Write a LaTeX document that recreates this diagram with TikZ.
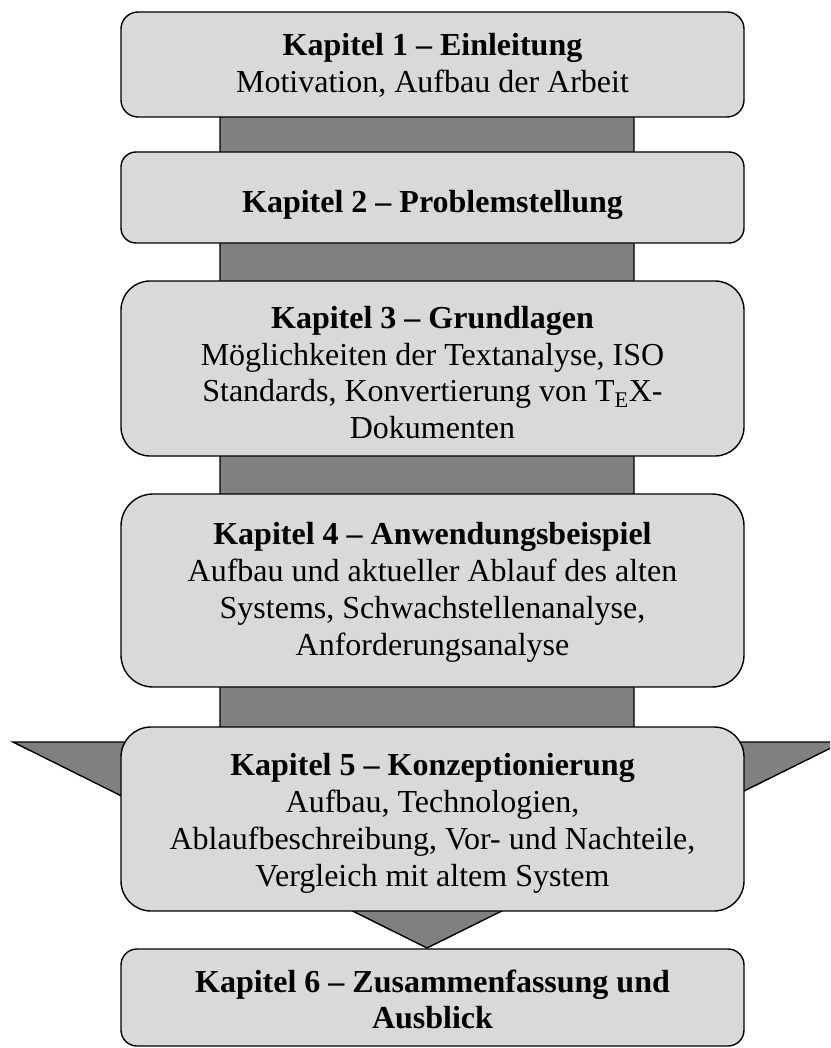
\documentclass[tikz,border=0pt]{standalone}
\usepackage{fontspec}
\setmainfont{Liberation Serif}
\usetikzlibrary{backgrounds}
\definecolor{boxfill}{HTML}{D9D9D9}
\definecolor{arrowfill}{HTML}{808080}
\begin{document}
\begin{tikzpicture}[x=1pt,y=-1pt,
  chapter/.style={draw=black, line width=1.4pt, fill=boxfill, rectangle,
    inner sep=0pt, minimum width=623pt},
  chaptext/.style={align=center, inner sep=0pt, font=\fontsize{32}{36.8}\selectfont},
  flow/.style={draw=black, line width=1.4pt, fill=arrowfill, line join=miter}
]
\useasboundingbox (0,0) rectangle (830,1048);

% chapter boxes, top to bottom
\node[chapter, minimum height=105pt, rounded corners=17pt] (k1) at (432.5,64.5) {};
\node[chapter, minimum height=91pt,  rounded corners=15pt] (k2) at (432.5,197.5) {};
\node[chapter, minimum height=175pt, rounded corners=29pt] (k3) at (432.5,368.5) {};
\node[chapter, minimum height=193pt, rounded corners=32pt] (k4) at (432.5,590.5) {};
\node[chapter, minimum height=184pt, rounded corners=30pt] (k5) at (432.5,819) {};
\node[chapter, minimum height=97pt,  rounded corners=16pt] (k6) at (432.5,997.5) {};

% chapter titles and contents
\node[chaptext] (t1) at ([yshift=-1pt]k1.center)
  {\textbf{Kapitel 1 – Einleitung}\\Motivation, Aufbau der Arbeit};
\node[chaptext] (t2) at ([yshift=-7pt]k2.center)
  {\textbf{Kapitel 2 – Problemstellung}};
\node[chaptext] (t3) at ([yshift=-4pt]k3.center)
  {\textbf{Kapitel 3 – Grundlagen}\\Möglichkeiten der Textanalyse, ISO\\Standards, Konvertierung von T\textsubscript{E}X-\\Dokumenten};
\node[chaptext] (t4) at ([yshift=-2pt]k4.center)
  {\textbf{Kapitel 4 – Anwendungsbeispiel}\\Aufbau und aktueller Ablauf des alten\\Systems, Schwachstellenanalyse,\\Anforderungsanalyse};
\node[chaptext] (t5) at ([yshift=-4.5pt]k5.center)
  {\textbf{Kapitel 5 – Konzeptionierung}\\Aufbau, Technologien,\\Ablaufbeschreibung, Vor- und Nachteile,\\Vergleich mit altem System};
\node[chaptext] (t6) at ([yshift=-2pt]k6.center)
  {\textbf{Kapitel 6 – Zusammenfassung und}\\\textbf{Ausblick}};

% flow arrow behind the boxes: shaft from chapter 1 down, head ending at chapter 6
\begin{scope}[on background layer]
  \clip (0,0) rectangle (830,1048);
  \coordinate (tip) at (427,948);
  \draw[flow] (220,60) -- (634,60) -- (634,742) -- (843,742) -- (tip)
    -- (13,742) -- (220,742) -- cycle;
\end{scope}
\end{tikzpicture}
\end{document}
